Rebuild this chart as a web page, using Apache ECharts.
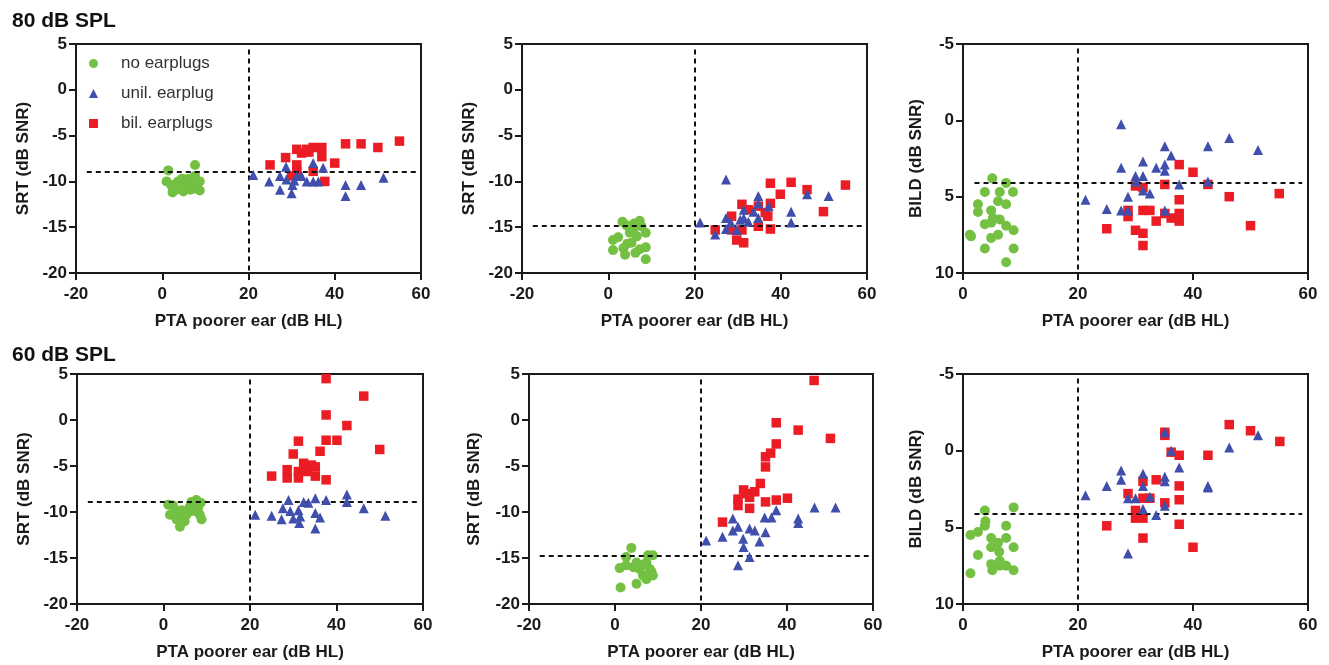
<!DOCTYPE html>
<html><head><meta charset="utf-8">
<script src="https://cdn.jsdelivr.net/npm/echarts@6/dist/echarts.min.js"></script>
<style>html,body{margin:0;padding:0;background:#fff}#c{width:1329px;height:665px}</style>
</head><body><div id="c"></div>
<script>
// ---------- DATA (x = PTA poorer ear dB HL, y = SRT / BILD) ----------
const groupNames = ['no earplugs', 'unil. earplug', 'bil. earplugs'];
const rowTitles = ['80 dB SPL', '60 dB SPL'];
const xTicksSRT = [-20, 0, 20, 40, 60];
const xTicksBILD = [0, 20, 40, 60];
const yTicksSRT = [-20, -15, -10, -5, 0, 5];
const yTicksBILD = [-5, 0, 5, 10];

// 80 dB SPL, panel 1 (SRT)
const a80_none = [[1.4,-8.8],[1.0,-10.0],[2.2,-10.5],[2.4,-11.2],[3.0,-10.3],[3.7,-10.0],[4.3,-10.6],[4.9,-11.1],[5.3,-9.8],[5.6,-10.3],[6.0,-10.4],[6.3,-9.7],[6.8,-10.0],[7.2,-10.8],[7.6,-8.2],[7.6,-9.4],[8.0,-10.5],[8.7,-10.0],[8.7,-11.0],[4.6,-9.7],[3.2,-10.9],[6.5,-10.9],[5.0,-10.2]];
const a80_unil = [[21.1,-9.3],[24.8,-10.0],[27.3,-10.9],[27.3,-9.4],[28.7,-8.4],[28.8,-9.8],[30.0,-11.3],[30.2,-10.4],[30.6,-9.9],[31.2,-9.4],[32.3,-9.4],[33.5,-10.0],[35.0,-8.0],[35.0,-10.0],[36.2,-10.0],[37.3,-8.5],[42.5,-10.4],[42.5,-11.6],[46.1,-10.4],[51.3,-9.6]];
const a80_bil = [[25.0,-8.2],[28.6,-7.4],[30.0,-9.4],[31.2,-6.5],[31.2,-8.2],[31.2,-8.9],[32.3,-6.9],[33.5,-6.5],[34.0,-6.8],[35.0,-6.3],[35.0,-8.9],[37.0,-6.3],[37.0,-7.3],[37.7,-10.0],[40.0,-8.0],[42.5,-5.9],[46.1,-5.9],[50.0,-6.3],[55.0,-5.6]];
// 80 dB SPL, panel 2 (SRT)
const b80_none = [[3.3,-14.4],[7.3,-14.3],[1.1,-16.4],[2.3,-16.1],[1.1,-17.5],[3.5,-17.3],[3.9,-18.0],[5.0,-15.6],[5.4,-16.7],[5.8,-15.3],[6.6,-16.0],[7.3,-17.4],[7.7,-14.9],[8.7,-15.6],[8.7,-17.2],[8.7,-18.5],[4.4,-16.8],[6.3,-17.8],[4.2,-14.8],[6.0,-14.6]];
const b80_unil = [[21.3,-14.5],[24.8,-15.8],[27.3,-9.8],[27.3,-14.0],[27.3,-15.2],[28.4,-14.5],[29.8,-15.3],[30.6,-14.2],[31.4,-13.1],[31.4,-14.0],[32.5,-14.4],[33.7,-13.3],[34.8,-11.6],[34.8,-12.4],[34.8,-14.0],[37.2,-12.7],[42.4,-13.3],[42.4,-14.5],[46.1,-11.4],[51.1,-11.6]];
const b80_bil = [[24.8,-15.3],[28.6,-13.8],[28.6,-15.3],[29.8,-16.4],[31.0,-12.5],[31.0,-15.3],[31.4,-16.7],[32.5,-13.1],[34.8,-12.7],[34.8,-14.9],[36.4,-13.4],[37.6,-10.2],[37.6,-12.4],[37.6,-15.2],[39.9,-11.4],[42.4,-10.1],[46.1,-10.9],[49.9,-13.3],[55.0,-10.4],[37.0,-13.8]];
// 80 dB SPL, panel 3 (BILD)
const c80_none = [[5.1,3.8],[7.5,4.1],[3.8,4.7],[6.4,4.7],[8.7,4.7],[2.6,5.5],[6.1,5.3],[7.5,5.5],[2.6,6.0],[4.9,5.9],[5.2,6.4],[6.4,6.5],[3.8,6.8],[4.9,6.7],[7.5,6.9],[1.2,7.5],[1.4,7.6],[4.9,7.7],[6.1,7.5],[8.8,7.2],[3.8,8.4],[8.8,8.4],[7.5,9.3]];
const c80_unil = [[21.3,5.2],[25.0,5.8],[27.5,0.26],[27.5,3.1],[27.5,5.9],[28.7,5.0],[28.7,5.9],[30.0,3.65],[30.1,4.0],[31.3,2.7],[31.3,3.65],[31.3,4.6],[32.5,4.8],[33.6,3.1],[35.1,1.7],[35.1,2.9],[35.1,3.3],[35.1,5.9],[36.2,2.3],[37.6,4.2],[42.6,1.7],[42.6,4.0],[46.3,1.15],[51.3,1.95]];
const c80_bil = [[25.0,7.1],[28.7,6.3],[28.7,5.9],[30.0,4.3],[30.0,7.2],[31.3,4.4],[31.3,5.9],[31.3,7.4],[31.3,8.2],[32.5,5.9],[33.6,6.6],[35.1,4.2],[35.1,6.1],[36.2,6.4],[37.6,2.9],[37.6,5.2],[37.6,6.1],[37.6,6.6],[40.0,3.4],[42.6,4.2],[46.3,5.0],[50.0,6.9],[55.0,4.8]];
// 60 dB SPL, panel 4 (SRT)
const a60_none = [[1.5,-10.3],[1.1,-9.2],[2.6,-9.9],[3.8,-11.6],[3.0,-10.8],[4.9,-11.0],[5.3,-10.3],[6.1,-9.4],[6.5,-8.9],[7.6,-8.7],[8.0,-9.6],[8.4,-10.3],[8.8,-10.8],[4.2,-9.8],[7.1,-9.9],[7.6,-9.2],[2.2,-9.3],[5.8,-10.0],[3.5,-10.4],[8.6,-9.0]];
const a60_unil = [[21.2,-10.3],[25.0,-10.4],[27.3,-10.8],[27.6,-9.6],[28.9,-8.7],[29.3,-9.9],[30.0,-10.7],[31.2,-9.8],[31.4,-11.2],[31.6,-10.5],[32.4,-8.9],[33.5,-9.0],[35.1,-8.5],[35.1,-10.1],[35.1,-11.8],[36.2,-10.6],[37.6,-8.7],[42.4,-8.1],[42.4,-8.9],[46.3,-9.6],[51.3,-10.4]];
const a60_bil = [[25.0,-6.1],[28.6,-5.4],[28.6,-6.3],[30.0,-3.7],[31.2,-2.3],[31.2,-5.6],[31.2,-6.3],[32.4,-4.7],[33.5,-5.1],[35.1,-5.1],[35.1,-6.1],[36.2,-3.4],[37.6,4.5],[37.6,0.55],[37.6,-2.2],[37.6,-6.5],[40.1,-2.2],[42.4,-0.6],[46.3,2.6],[50.0,-3.2],[34.2,-4.9],[33.0,-5.6]];
// 60 dB SPL, panel 5 (SRT)
const b60_none = [[3.8,-13.9],[1.1,-16.1],[1.3,-18.2],[2.6,-14.9],[2.6,-15.8],[5.0,-15.5],[5.0,-17.8],[5.7,-16.2],[6.5,-16.9],[7.3,-15.5],[7.7,-14.7],[8.8,-14.7],[8.1,-16.2],[8.8,-16.9],[7.3,-17.3],[4.3,-16.0],[6.2,-15.8],[8.5,-16.5]];
const b60_unil = [[21.2,-13.1],[25.0,-12.7],[27.4,-10.7],[27.4,-12.0],[28.6,-11.6],[28.6,-15.8],[29.8,-12.9],[29.9,-13.8],[31.3,-11.8],[31.3,-14.9],[32.5,-12.0],[33.6,-13.2],[34.8,-10.6],[35.0,-12.2],[36.4,-10.6],[37.5,-9.8],[42.6,-10.7],[42.6,-11.2],[46.4,-9.5],[51.3,-9.5]];
const b60_bil = [[25.0,-11.1],[28.6,-8.6],[28.6,-9.3],[29.9,-7.6],[31.3,-8.4],[31.3,-9.6],[32.5,-7.8],[33.8,-6.9],[35.0,-4.0],[35.0,-5.1],[35.0,-8.9],[36.2,-3.6],[37.5,-0.3],[37.5,-2.6],[37.5,-8.7],[40.1,-8.5],[42.6,-1.1],[46.3,4.3],[50.1,-2.0],[30.6,-8.0]];
// 60 dB SPL, panel 6 (BILD)
const c60_none = [[1.3,5.5],[1.3,8.0],[2.6,5.3],[2.6,6.8],[3.8,3.9],[3.9,4.6],[3.8,4.9],[4.9,5.7],[4.9,6.3],[4.9,7.4],[5.1,7.8],[6.1,6.0],[6.3,6.6],[6.4,7.2],[7.5,4.9],[7.5,5.7],[7.5,7.5],[8.8,3.7],[8.8,6.3],[8.8,7.8],[6.4,7.5]];
const c60_unil = [[21.3,2.9],[25.0,2.3],[27.5,1.3],[27.5,1.9],[28.7,3.1],[28.7,6.7],[30.0,3.1],[31.3,1.5],[31.3,2.3],[31.3,3.8],[32.5,3.0],[33.6,4.2],[35.1,-1.2],[35.1,1.7],[35.1,2.0],[35.1,3.6],[36.2,0.0],[37.6,1.1],[42.6,2.3],[42.6,2.4],[46.3,-0.2],[51.3,-1.0]];
const c60_bil = [[25.0,4.9],[28.7,2.8],[30.0,3.9],[30.0,4.4],[31.3,2.0],[31.3,3.1],[31.3,4.4],[31.3,5.7],[32.5,3.1],[33.6,1.9],[35.1,-1.2],[35.1,-1.0],[35.1,3.4],[36.2,0.1],[37.6,0.3],[37.6,2.3],[37.6,3.2],[37.6,4.8],[40.0,6.3],[42.6,0.3],[46.3,-1.7],[50.0,-1.3],[55.1,-0.6]];

// reference lines: [vertical x, horizontal y]
const refLines = [[20,-8.9],[20,-14.8],[20,4.1],[20,-8.9],[20,-14.8],[20,4.1]];

// ---------- LAYOUT / STYLE ----------
const FONT = '"Liberation Sans", Arial, sans-serif';
const COLORS = ['#74c043', '#3f4fab', '#ec1c24'];
const panels = [
  {grid:{left:76, top:44, width:345, height:229}, kind:'srt', d:[a80_none,a80_unil,a80_bil], yName:'SRT (dB SNR)', yGap:44},
  {grid:{left:522, top:44, width:345, height:229}, kind:'srt', d:[b80_none,b80_unil,b80_bil], yName:'SRT (dB SNR)', yGap:44},
  {grid:{left:963, top:44, width:345, height:229}, kind:'bild', d:[c80_none,c80_unil,c80_bil], yName:'BILD (dB SNR)', yGap:38},
  {grid:{left:77, top:374, width:346, height:230}, kind:'srt', d:[a60_none,a60_unil,a60_bil], yName:'SRT (dB SNR)', yGap:44},
  {grid:{left:529, top:374, width:344, height:230}, kind:'srt', d:[b60_none,b60_unil,b60_bil], yName:'SRT (dB SNR)', yGap:46},
  {grid:{left:963, top:374, width:345, height:230}, kind:'bild', d:[c60_none,c60_unil,c60_bil], yName:'BILD (dB SNR)', yGap:38}
];

const grids = [], xAxes = [], yAxes = [], series = [];
const axisLine = {show:true, onZero:false, lineStyle:{color:'#1a1a1a', width:2}};
const axisTick = {show:true, length:7, lineStyle:{color:'#1a1a1a', width:2}};
const axisLabelBase = {color:'#1a1a1a', fontFamily:FONT, fontWeight:'bold', fontSize:17};
const nameStyle = {color:'#1a1a1a', fontFamily:FONT, fontWeight:'bold', fontSize:17};

panels.forEach((p, i) => {
  grids.push(Object.assign({show:true, borderColor:'#1a1a1a', borderWidth:2, backgroundColor:'transparent'}, p.grid));
  const srt = p.kind === 'srt';
  const xt = srt ? xTicksSRT : xTicksBILD;
  const yt = srt ? yTicksSRT : yTicksBILD;
  xAxes.push({type:'value', gridIndex:i, min:xt[0], max:xt[xt.length-1], interval:xt[1]-xt[0],
    axisLine, axisTick, splitLine:{show:false},
    axisLabel:Object.assign({margin:13}, axisLabelBase),
    name:'PTA poorer ear (dB HL)', nameLocation:'middle', nameGap:40, nameTextStyle:nameStyle});
  yAxes.push({type:'value', gridIndex:i, min:yt[0], max:yt[yt.length-1], interval:yt[1]-yt[0],
    inverse:!srt, axisLine, axisTick, splitLine:{show:false},
    axisLabel:Object.assign({margin:9}, axisLabelBase),
    name:p.yName, nameLocation:'middle', nameGap:p.yGap, nameTextStyle:nameStyle});

  const [vx, hy] = refLines[i];
  const yTop = srt ? 4.4 : -4.7;
  const yBot = yt[0] === -20 ? -20 : 10;
  const hx0 = srt ? -17.5 : 2, hx1 = 59;
  const order = [0, 2, 1]; // draw bilateral before unilateral so triangles sit on top
  order.forEach((g, k) => {
    const s = {
      type:'scatter', name:groupNames[g], xAxisIndex:i, yAxisIndex:i,
      data:p.d[g], symbol:['circle','triangle','rect'][g], symbolSize:[10,10,9.5][g],
      itemStyle:{color:COLORS[g], opacity:1}, silent:true, z:3 + k
    };
    if (k === 0) {
      s.markLine = {silent:true, symbol:'none', label:{show:false}, animation:false,
        lineStyle:{color:'#111', width:2, type:[5,4]},
        data:[
          [{coord:[vx, yTop]}, {coord:[vx, yBot]}],
          [{coord:[hx0, hy]}, {coord:[hx1, hy]}]
        ]};
    }
    series.push(s);
  });
});

const option = {
  animation:false,
  backgroundColor:'#fff',
  title:[
    {text:rowTitles[0], left:7, top:6, textStyle:{fontFamily:FONT, fontWeight:'bold', fontSize:21, color:'#111'}},
    {text:rowTitles[1], left:7, top:340, textStyle:{fontFamily:FONT, fontWeight:'bold', fontSize:21, color:'#111'}}
  ],
  legend:{
    orient:'vertical', left:84, top:50, itemGap:13, itemWidth:9, itemHeight:9,
    textStyle:{fontFamily:FONT, fontSize:17, color:'#333', padding:[0,0,0,18]},
    data:[
      {name:groupNames[0], icon:'circle', itemStyle:{color:COLORS[0]}},
      {name:groupNames[1], icon:'triangle', itemStyle:{color:COLORS[1]}},
      {name:groupNames[2], icon:'rect', itemStyle:{color:COLORS[2]}}
    ],
    selectedMode:false
  },
  grid:grids, xAxis:xAxes, yAxis:yAxes, series
};
const chart = echarts.init(document.getElementById('c'), null, {renderer:'canvas'});
chart.setOption(option);
</script></body></html>
